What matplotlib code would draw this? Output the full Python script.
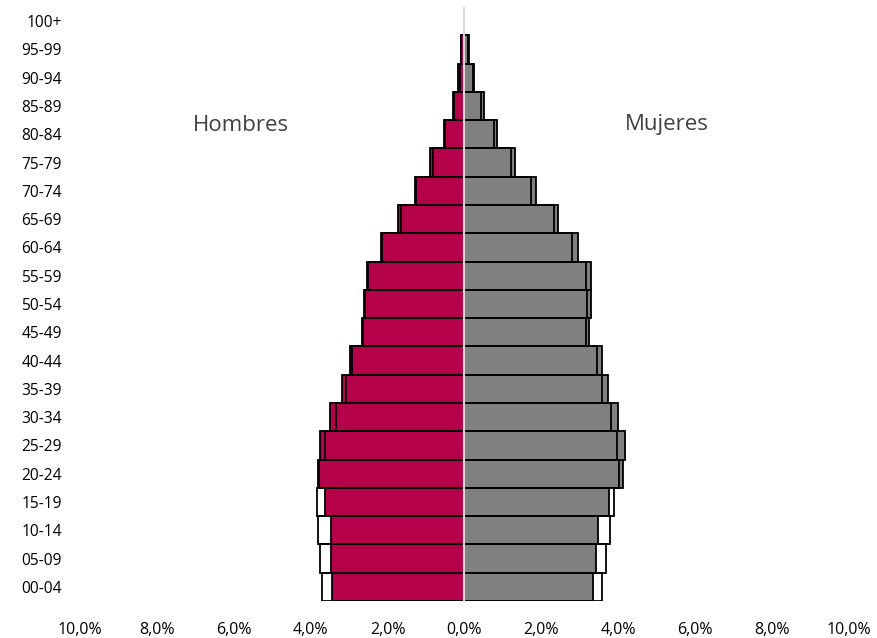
import matplotlib
matplotlib.use("Agg")
import matplotlib.pyplot as plt
import numpy as np

plt.rcParams['font.family'] = ['Open Sans', 'DejaVu Sans']

age_groups = ["00-04", "05-09", "10-14", "15-19", "20-24", "25-29", "30-34",
              "35-39", "40-44", "45-49", "50-54", "55-59", "60-64", "65-69",
              "70-74", "75-79", "80-84", "85-89", "90-94", "95-99", "100+"]

# Filled bars (current year), percent of population
men_filled = [3.45, 3.47, 3.47, 3.62, 3.82, 3.75, 3.51, 3.18, 2.97, 2.67, 2.62,
              2.54, 2.18, 1.74, 1.29, 0.89, 0.54, 0.31, 0.16, 0.10, 0.0]
women_filled = [3.35, 3.41, 3.48, 3.75, 4.11, 4.17, 3.98, 3.72, 3.57, 3.25, 3.28,
                3.30, 2.95, 2.44, 1.85, 1.32, 0.84, 0.50, 0.26, 0.12, 0.0]

# Outline bars (comparison year), percent of population
men_outline = [3.70, 3.75, 3.80, 3.83, 3.79, 3.62, 3.35, 3.09, 2.92, 2.64, 2.60,
               2.50, 2.14, 1.66, 1.25, 0.83, 0.50, 0.28, 0.13, 0.08, 0.0]
women_outline = [3.58, 3.69, 3.78, 3.90, 4.02, 3.96, 3.80, 3.58, 3.45, 3.17, 3.19,
                 3.16, 2.80, 2.32, 1.72, 1.22, 0.76, 0.44, 0.22, 0.10, 0.0]

x_ticks = [-10, -8, -6, -4, -2, 0, 2, 4, 6, 8, 10]
x_tick_labels = ["10,0%", "8,0%", "6,0%", "4,0%", "2,0%", "0,0%",
                 "2,0%", "4,0%", "6,0%", "8,0%", "10,0%"]

crimson = "#B5004A"
grey = "#808080"

fig = plt.figure(figsize=(8.77, 6.38), dpi=100)
ax = fig.add_axes([80 / 877, 1 - 601 / 638, 769 / 877, 594 / 638])

y = np.arange(len(age_groups))


def widths(vals):
    return [1.3 if v > 0 else 0 for v in vals]


ax.barh(y, -np.array(men_filled), height=1.0, color=crimson,
        edgecolor="black", linewidth=widths(men_filled), zorder=2)
ax.barh(y, women_filled, height=1.0, color=grey,
        edgecolor="black", linewidth=widths(women_filled), zorder=2)
ax.barh(y, -np.array(men_outline), height=1.0, facecolor="none",
        edgecolor="black", linewidth=widths(men_outline), zorder=3)
ax.barh(y, women_outline, height=1.0, facecolor="none",
        edgecolor="black", linewidth=widths(women_outline), zorder=3)

ax.axvline(0, color="#D9D9D9", linewidth=1.5, zorder=5)

ax.set_xlim(-10, 10)
ax.set_ylim(-0.5, len(age_groups) - 0.5)
ax.set_xticks(x_ticks)
ax.set_xticklabels(x_tick_labels, fontsize=11.5, color="#000000")
ax.set_yticks(y)
ax.set_yticklabels(age_groups, fontsize=11.2, color="#000000")
ax.tick_params(axis="x", length=0, pad=15)
ax.tick_params(axis="y", length=0, pad=13)
for s in ax.spines.values():
    s.set_visible(False)

ax.text(-5.82, 16.3, "Hombres", fontsize=16, color="#404040",
        ha="center", va="center")
ax.text(5.27, 16.35, "Mujeres", fontsize=16, color="#404040",
        ha="center", va="center")

fig.savefig("out.png", dpi=100)
